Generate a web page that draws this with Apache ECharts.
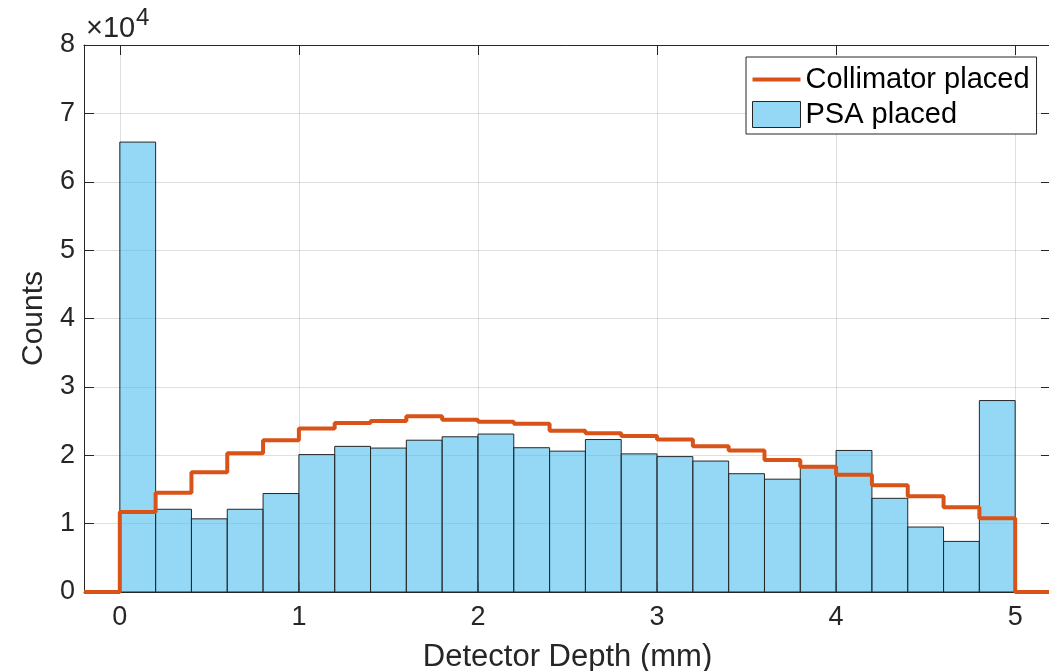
<!DOCTYPE html>
<html>
<head>
<meta charset="utf-8">
<title>Detector depth histogram</title>
<script src="https://cdn.jsdelivr.net/npm/echarts@6/dist/echarts.min.js"></script>
<style>
  html, body { margin: 0; padding: 0; background: #fff; }
  #chart { width: 1049px; height: 671px; }
</style>
</head>
<body>
<div id="chart"></div>
<script>
// bin edges (mm), 0.2 mm wide bins
const binEdges = [0, 0.2, 0.4, 0.6, 0.8, 1.0, 1.2, 1.4, 1.6, 1.8, 2.0, 2.2, 2.4,
  2.6, 2.8, 3.0, 3.2, 3.4, 3.6, 3.8, 4.0, 4.2, 4.4, 4.6, 4.8, 5.0]
// PSA placed (bars)
const psaCounts = [65800, 12100, 10700, 12100, 14400, 20100, 21300, 21050, 22200,
  22700, 23100, 21100, 20600, 22300, 20200, 19800, 19150, 17300, 16500, 18200,
  20700, 13700, 9500, 7400, 28000]
// Collimator placed (stairs)
const collimatorCounts = [11700, 14500, 17500, 20300, 22200, 23900, 24700, 25000,
  25700, 25200, 24900, 24600, 23600, 23200, 22800, 22300, 21300, 20700, 19300,
  18300, 17150, 15600, 14000, 12400, 10800]
const xTicks = [0, 1, 2, 3, 4, 5]
const xMin = -0.2
const xMax = 5.2

const FONT = '"Liberation Sans", Arial, Helvetica, sans-serif'
const AXIS_COLOR = '#262626'
const GRID_COLOR = 'rgba(38,38,38,0.15)'
const BAR_FILL = 'rgba(77,190,238,0.6)'
const ORANGE = '#D95319'

const barData = psaCounts.map((v, i) => [binEdges[i], binEdges[i + 1], v])

// stairs: flat at 0 before the first bin, each bin value, then back to 0
const stairData = [[xMin, 0]]
collimatorCounts.forEach((v, i) => {
  stairData.push([binEdges[i], v])
})
stairData.push([binEdges[binEdges.length - 1], 0])
stairData.push([xMax, 0])

const chart = echarts.init(document.getElementById('chart'))

const option = {
  animation: false,
  backgroundColor: '#fff',
  textStyle: { fontFamily: FONT },
  grid: {
    left: 84,
    top: 45,
    width: 967,
    height: 547,
    containLabel: false,
    outerBoundsMode: 'none'
  },
  legend: {
    orient: 'vertical',
    left: 746,
    top: 57,
    padding: [8, 7, 5, 6],
    itemWidth: 48,
    itemHeight: 26,
    itemGap: 6,
    symbolKeepAspect: true,
    backgroundColor: '#fff',
    borderColor: AXIS_COLOR,
    borderWidth: 1,
    borderRadius: 0,
    textStyle: { fontSize: 29, color: '#000', fontFamily: FONT },
    data: [
      {
        name: 'Collimator placed',
        icon: 'path://M0,0L48,0L48,4L0,4Z',
        itemStyle: { color: ORANGE, borderWidth: 0 }
      },
      {
        name: 'PSA placed',
        icon: 'rect',
        itemStyle: { color: BAR_FILL, borderColor: AXIS_COLOR, borderWidth: 1 }
      }
    ]
  },
  xAxis: [
    {
      type: 'value',
      min: xMin,
      max: xMax,
      name: 'Detector Depth (mm)',
      nameLocation: 'middle',
      nameGap: 50,
      nameTextStyle: { fontSize: 31, color: AXIS_COLOR, fontFamily: FONT },
      axisLine: { show: true, onZero: false, lineStyle: { color: AXIS_COLOR, width: 1 } },
      axisTick: { show: true, inside: true, length: 10, customValues: xTicks, lineStyle: { color: AXIS_COLOR } },
      axisLabel: { customValues: xTicks, margin: 12, fontSize: 27, color: AXIS_COLOR, fontFamily: FONT },
      splitLine: { show: true, lineStyle: { color: GRID_COLOR, width: 1 } }
    },
    {
      type: 'value',
      position: 'top',
      min: xMin,
      max: xMax,
      axisLine: { show: true, onZero: false, lineStyle: { color: AXIS_COLOR, width: 1 } },
      axisTick: { show: true, inside: true, length: 10, customValues: xTicks, lineStyle: { color: AXIS_COLOR } },
      axisLabel: { show: false },
      splitLine: { show: false }
    }
  ],
  yAxis: [
    {
      type: 'value',
      min: 0,
      max: 80000,
      interval: 10000,
      name: 'Counts',
      nameLocation: 'middle',
      nameGap: 33,
      nameTextStyle: { fontSize: 30, color: AXIS_COLOR, fontFamily: FONT },
      axisLine: { show: true, onZero: false, lineStyle: { color: AXIS_COLOR, width: 1 } },
      axisTick: { show: true, inside: true, length: 10, lineStyle: { color: AXIS_COLOR } },
      axisLabel: {
        margin: 9,
        fontSize: 27,
        color: AXIS_COLOR,
        fontFamily: FONT,
        formatter: v => String(v / 10000)
      },
      splitLine: { show: true, lineStyle: { color: GRID_COLOR, width: 1 } }
    },
    {
      type: 'value',
      position: 'right',
      min: 0,
      max: 80000,
      interval: 10000,
      axisLine: { show: true, onZero: false, lineStyle: { color: AXIS_COLOR, width: 1 } },
      axisTick: { show: true, inside: true, length: 10, lineStyle: { color: AXIS_COLOR } },
      axisLabel: { show: false },
      splitLine: { show: false }
    }
  ],
  graphic: [
    {
      type: 'text',
      left: 86,
      top: 14,
      style: { text: '×10', fontSize: 29, fill: AXIS_COLOR, fontFamily: FONT }
    },
    {
      type: 'text',
      left: 136,
      top: 6,
      style: { text: '4', fontSize: 24, fill: AXIS_COLOR, fontFamily: FONT }
    }
  ],
  series: [
    {
      name: 'PSA placed',
      type: 'custom',
      xAxisIndex: 0,
      yAxisIndex: 0,
      itemStyle: { color: BAR_FILL, borderColor: AXIS_COLOR, borderWidth: 1 },
      encode: { x: [0, 1], y: 2 },
      renderItem: (params, api) => {
        const topLeft = api.coord([api.value(0), api.value(2)])
        const bottomRight = api.coord([api.value(1), 0])
        return {
          type: 'rect',
          shape: {
            x: topLeft[0],
            y: topLeft[1],
            width: bottomRight[0] - topLeft[0],
            height: bottomRight[1] - topLeft[1]
          },
          style: { fill: BAR_FILL, stroke: AXIS_COLOR, lineWidth: 1 }
        }
      },
      data: barData,
      z: 2
    },
    {
      name: 'Collimator placed',
      type: 'line',
      xAxisIndex: 0,
      yAxisIndex: 0,
      step: 'end',
      symbol: 'none',
      lineStyle: { color: ORANGE, width: 4 },
      itemStyle: { color: ORANGE },
      data: stairData,
      z: 3
    }
  ]
}

chart.setOption(option)
</script>
</body>
</html>
